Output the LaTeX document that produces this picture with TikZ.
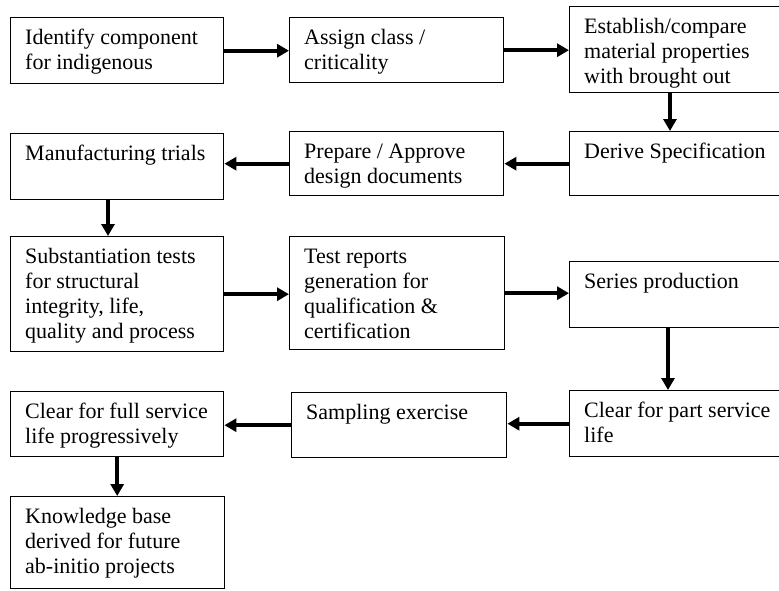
\documentclass[tikz,border=0pt]{standalone}
\usepackage{fontspec}
\setmainfont{Liberation Serif}
\usetikzlibrary{arrows.meta,calc}
\tikzset{
  box/.style={draw=black, line width=1.4pt, inner sep=0pt, anchor=north west, font=\fontsize{22}{25}\selectfont},
  arr/.style={line width=4pt, -{Triangle[length=12pt,width=13pt]}}
}
\newcommand\fbx[6]{\node[box] (#1) at (#2,#3) {\parbox[t][\dimexpr#5pt-#3pt\relax][t]{\dimexpr#4pt-#2pt\relax}{\raggedright\leftskip=14.5pt\relax\rule{0pt}{27pt}#6}};}
\begin{document}
\begin{tikzpicture}[x=1pt,y=-1pt]
\useasboundingbox (0,0) rectangle (779,590);
\fbx{A}{10}{17}{223}{83}{Identify component\\for indigenous}
\fbx{B}{289}{17}{503}{82}{Assign class /\\criticality}
\fbx{C}{569}{6}{790}{92}{Establish/compare\\material properties\\with brought out}
\fbx{D}{569}{131}{790}{195}{Derive Specification}
\fbx{E}{289}{131}{503}{195}{Prepare / Approve\\design documents}
\fbx{F}{10}{133}{223}{199}{Manufacturing trials}
\fbx{G}{10}{236}{223}{351}{Substantiation tests\\for structural\\integrity, life,\\quality and process}
\fbx{H}{289}{236}{504}{349}{Test reports\\generation for\\qualification \&\\certification}
\fbx{I}{569}{261}{790}{327}{Series production}
\fbx{J}{569}{390}{790}{456}{Clear for part service\\life}
\fbx{K}{291}{392}{506}{457}{Sampling exercise}
\fbx{L}{10}{391}{223}{456}{Clear for full service\\life progressively}
\fbx{M}{10}{496}{224}{588}{Knowledge base\\derived for future\\ab-initio projects}
\draw[arr] (A.east) -- (A.east -| B.west);
\draw[arr] (B.east) -- (B.east -| C.west);
\draw[arr] ($(C.south west)+(101,0)$) -- ($(D.north west)+(101,0)$);
\draw[arr] (D.west) -- (D.west -| E.east);
\draw[arr] (E.west) -- (E.west -| F.east);
\draw[arr] ($(F.south west)+(98,0)$) -- ($(G.north west)+(98,0)$);
\draw[arr] (G.east) -- (G.east -| H.west);
\draw[arr] (H.east) -- (H.east -| I.west);
\draw[arr] ($(I.south west)+(99,0)$) -- ($(J.north west)+(99,0)$);
\draw[arr] (J.west) -- (J.west -| K.east);
\draw[arr] (K.west) -- (K.west -| L.east);
\draw[arr] (L.south) -- (L.south |- M.north);
\end{tikzpicture}
\end{document}
